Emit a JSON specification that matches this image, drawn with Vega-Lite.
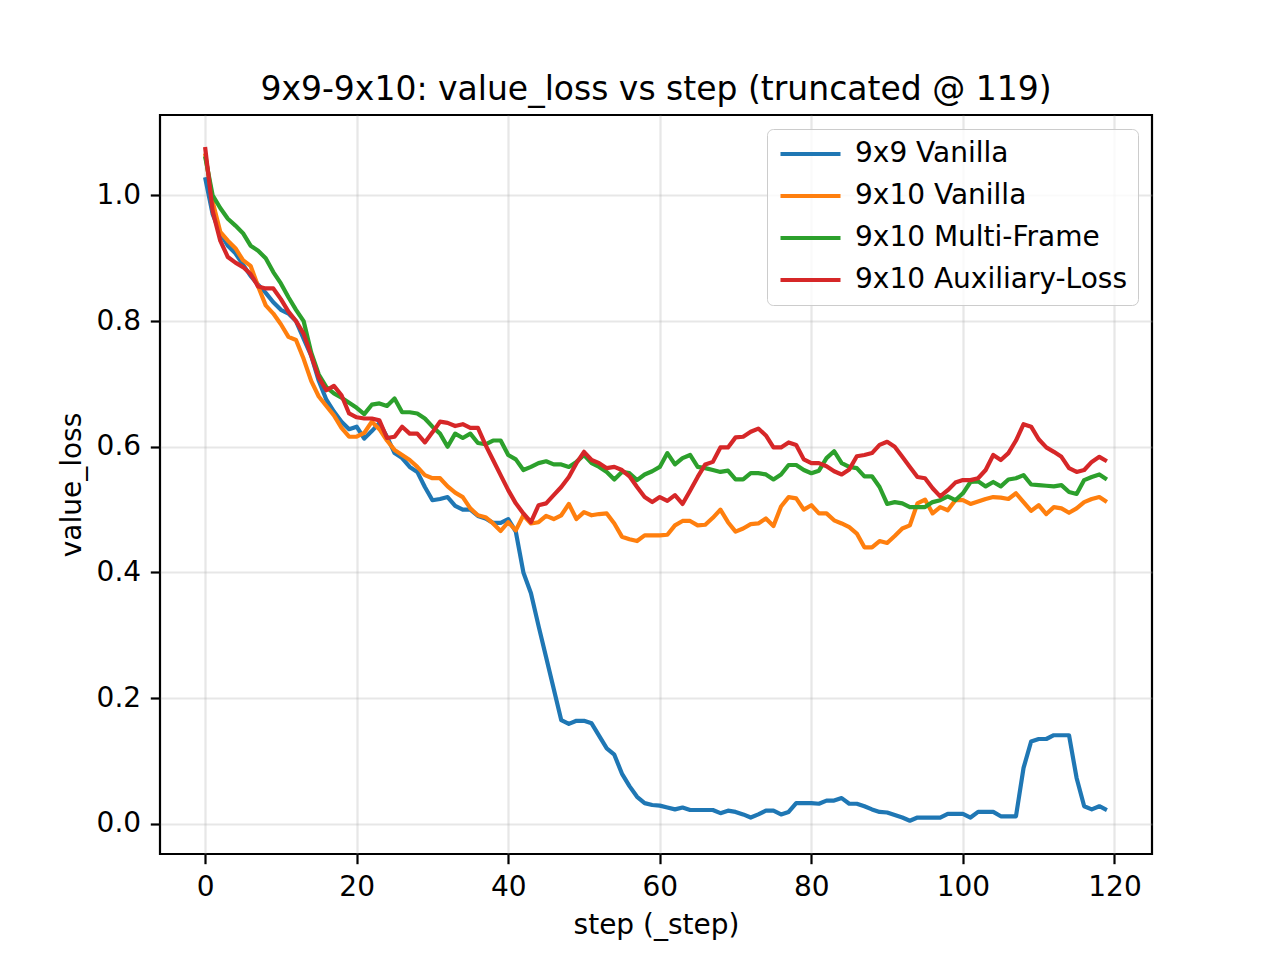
{
  "$schema": "https://vega.github.io/schema/vega-lite/v6.json",
  "autosize": {"type": "none"},
  "width": 992,
  "height": 739,
  "padding": {"left": 160, "top": 115, "right": 128, "bottom": 106},
  "background": "white",
  "title": {
    "text": "9x9-9x10: value_loss vs step (truncated @ 119)",
    "font": "DejaVu Sans",
    "fontSize": 33,
    "fontWeight": "normal",
    "color": "black",
    "anchor": "middle",
    "offset": 8
  },
  "datasets": {
    "runs": [
      {"run": "9x9 Vanilla", "step": 0, "value_loss": 1.029}, {"run": "9x9 Vanilla", "step": 1, "value_loss": 0.97}, {"run": "9x9 Vanilla", "step": 2, "value_loss": 0.94}, {"run": "9x9 Vanilla", "step": 3, "value_loss": 0.92}, {"run": "9x9 Vanilla", "step": 4, "value_loss": 0.908}, {"run": "9x9 Vanilla", "step": 5, "value_loss": 0.89}, {"run": "9x9 Vanilla", "step": 6, "value_loss": 0.872}, {"run": "9x9 Vanilla", "step": 7, "value_loss": 0.858}, {"run": "9x9 Vanilla", "step": 8, "value_loss": 0.845}, {"run": "9x9 Vanilla", "step": 9, "value_loss": 0.83},
      {"run": "9x9 Vanilla", "step": 10, "value_loss": 0.818}, {"run": "9x9 Vanilla", "step": 11, "value_loss": 0.812}, {"run": "9x9 Vanilla", "step": 12, "value_loss": 0.8}, {"run": "9x9 Vanilla", "step": 13, "value_loss": 0.772}, {"run": "9x9 Vanilla", "step": 14, "value_loss": 0.745}, {"run": "9x9 Vanilla", "step": 15, "value_loss": 0.705}, {"run": "9x9 Vanilla", "step": 16, "value_loss": 0.675}, {"run": "9x9 Vanilla", "step": 17, "value_loss": 0.656}, {"run": "9x9 Vanilla", "step": 18, "value_loss": 0.64}, {"run": "9x9 Vanilla", "step": 19, "value_loss": 0.628},
      {"run": "9x9 Vanilla", "step": 20, "value_loss": 0.632}, {"run": "9x9 Vanilla", "step": 21, "value_loss": 0.613}, {"run": "9x9 Vanilla", "step": 22, "value_loss": 0.625}, {"run": "9x9 Vanilla", "step": 23, "value_loss": 0.638}, {"run": "9x9 Vanilla", "step": 24, "value_loss": 0.616}, {"run": "9x9 Vanilla", "step": 25, "value_loss": 0.59}, {"run": "9x9 Vanilla", "step": 26, "value_loss": 0.582}, {"run": "9x9 Vanilla", "step": 27, "value_loss": 0.568}, {"run": "9x9 Vanilla", "step": 28, "value_loss": 0.56}, {"run": "9x9 Vanilla", "step": 29, "value_loss": 0.536},
      {"run": "9x9 Vanilla", "step": 30, "value_loss": 0.515}, {"run": "9x9 Vanilla", "step": 31, "value_loss": 0.517}, {"run": "9x9 Vanilla", "step": 32, "value_loss": 0.52}, {"run": "9x9 Vanilla", "step": 33, "value_loss": 0.506}, {"run": "9x9 Vanilla", "step": 34, "value_loss": 0.5}, {"run": "9x9 Vanilla", "step": 35, "value_loss": 0.5}, {"run": "9x9 Vanilla", "step": 36, "value_loss": 0.49}, {"run": "9x9 Vanilla", "step": 37, "value_loss": 0.486}, {"run": "9x9 Vanilla", "step": 38, "value_loss": 0.479}, {"run": "9x9 Vanilla", "step": 39, "value_loss": 0.479},
      {"run": "9x9 Vanilla", "step": 40, "value_loss": 0.485}, {"run": "9x9 Vanilla", "step": 41, "value_loss": 0.465}, {"run": "9x9 Vanilla", "step": 42, "value_loss": 0.4}, {"run": "9x9 Vanilla", "step": 43, "value_loss": 0.367}, {"run": "9x9 Vanilla", "step": 44, "value_loss": 0.315}, {"run": "9x9 Vanilla", "step": 45, "value_loss": 0.265}, {"run": "9x9 Vanilla", "step": 46, "value_loss": 0.215}, {"run": "9x9 Vanilla", "step": 47, "value_loss": 0.165}, {"run": "9x9 Vanilla", "step": 48, "value_loss": 0.159}, {"run": "9x9 Vanilla", "step": 49, "value_loss": 0.164},
      {"run": "9x9 Vanilla", "step": 50, "value_loss": 0.164}, {"run": "9x9 Vanilla", "step": 51, "value_loss": 0.16}, {"run": "9x9 Vanilla", "step": 52, "value_loss": 0.14}, {"run": "9x9 Vanilla", "step": 53, "value_loss": 0.12}, {"run": "9x9 Vanilla", "step": 54, "value_loss": 0.11}, {"run": "9x9 Vanilla", "step": 55, "value_loss": 0.08}, {"run": "9x9 Vanilla", "step": 56, "value_loss": 0.06}, {"run": "9x9 Vanilla", "step": 57, "value_loss": 0.043}, {"run": "9x9 Vanilla", "step": 58, "value_loss": 0.033}, {"run": "9x9 Vanilla", "step": 59, "value_loss": 0.03},
      {"run": "9x9 Vanilla", "step": 60, "value_loss": 0.029}, {"run": "9x9 Vanilla", "step": 61, "value_loss": 0.026}, {"run": "9x9 Vanilla", "step": 62, "value_loss": 0.023}, {"run": "9x9 Vanilla", "step": 63, "value_loss": 0.026}, {"run": "9x9 Vanilla", "step": 64, "value_loss": 0.022}, {"run": "9x9 Vanilla", "step": 65, "value_loss": 0.022}, {"run": "9x9 Vanilla", "step": 66, "value_loss": 0.022}, {"run": "9x9 Vanilla", "step": 67, "value_loss": 0.022}, {"run": "9x9 Vanilla", "step": 68, "value_loss": 0.017}, {"run": "9x9 Vanilla", "step": 69, "value_loss": 0.021},
      {"run": "9x9 Vanilla", "step": 70, "value_loss": 0.019}, {"run": "9x9 Vanilla", "step": 71, "value_loss": 0.015}, {"run": "9x9 Vanilla", "step": 72, "value_loss": 0.01}, {"run": "9x9 Vanilla", "step": 73, "value_loss": 0.015}, {"run": "9x9 Vanilla", "step": 74, "value_loss": 0.021}, {"run": "9x9 Vanilla", "step": 75, "value_loss": 0.021}, {"run": "9x9 Vanilla", "step": 76, "value_loss": 0.015}, {"run": "9x9 Vanilla", "step": 77, "value_loss": 0.019}, {"run": "9x9 Vanilla", "step": 78, "value_loss": 0.033}, {"run": "9x9 Vanilla", "step": 79, "value_loss": 0.033},
      {"run": "9x9 Vanilla", "step": 80, "value_loss": 0.033}, {"run": "9x9 Vanilla", "step": 81, "value_loss": 0.032}, {"run": "9x9 Vanilla", "step": 82, "value_loss": 0.037}, {"run": "9x9 Vanilla", "step": 83, "value_loss": 0.037}, {"run": "9x9 Vanilla", "step": 84, "value_loss": 0.041}, {"run": "9x9 Vanilla", "step": 85, "value_loss": 0.032}, {"run": "9x9 Vanilla", "step": 86, "value_loss": 0.032}, {"run": "9x9 Vanilla", "step": 87, "value_loss": 0.028}, {"run": "9x9 Vanilla", "step": 88, "value_loss": 0.023}, {"run": "9x9 Vanilla", "step": 89, "value_loss": 0.019},
      {"run": "9x9 Vanilla", "step": 90, "value_loss": 0.018}, {"run": "9x9 Vanilla", "step": 91, "value_loss": 0.014}, {"run": "9x9 Vanilla", "step": 92, "value_loss": 0.01}, {"run": "9x9 Vanilla", "step": 93, "value_loss": 0.005}, {"run": "9x9 Vanilla", "step": 94, "value_loss": 0.01}, {"run": "9x9 Vanilla", "step": 95, "value_loss": 0.01}, {"run": "9x9 Vanilla", "step": 96, "value_loss": 0.01}, {"run": "9x9 Vanilla", "step": 97, "value_loss": 0.01}, {"run": "9x9 Vanilla", "step": 98, "value_loss": 0.016}, {"run": "9x9 Vanilla", "step": 99, "value_loss": 0.016},
      {"run": "9x9 Vanilla", "step": 100, "value_loss": 0.016}, {"run": "9x9 Vanilla", "step": 101, "value_loss": 0.01}, {"run": "9x9 Vanilla", "step": 102, "value_loss": 0.019}, {"run": "9x9 Vanilla", "step": 103, "value_loss": 0.019}, {"run": "9x9 Vanilla", "step": 104, "value_loss": 0.019}, {"run": "9x9 Vanilla", "step": 105, "value_loss": 0.012}, {"run": "9x9 Vanilla", "step": 106, "value_loss": 0.012}, {"run": "9x9 Vanilla", "step": 107, "value_loss": 0.012}, {"run": "9x9 Vanilla", "step": 108, "value_loss": 0.089}, {"run": "9x9 Vanilla", "step": 109, "value_loss": 0.131},
      {"run": "9x9 Vanilla", "step": 110, "value_loss": 0.135}, {"run": "9x9 Vanilla", "step": 111, "value_loss": 0.135}, {"run": "9x9 Vanilla", "step": 112, "value_loss": 0.141}, {"run": "9x9 Vanilla", "step": 113, "value_loss": 0.141}, {"run": "9x9 Vanilla", "step": 114, "value_loss": 0.141}, {"run": "9x9 Vanilla", "step": 115, "value_loss": 0.073}, {"run": "9x9 Vanilla", "step": 116, "value_loss": 0.028}, {"run": "9x9 Vanilla", "step": 117, "value_loss": 0.023}, {"run": "9x9 Vanilla", "step": 118, "value_loss": 0.028}, {"run": "9x9 Vanilla", "step": 119, "value_loss": 0.022},

      {"run": "9x10 Vanilla", "step": 0, "value_loss": 1.067}, {"run": "9x10 Vanilla", "step": 1, "value_loss": 0.99}, {"run": "9x10 Vanilla", "step": 2, "value_loss": 0.942}, {"run": "9x10 Vanilla", "step": 3, "value_loss": 0.928}, {"run": "9x10 Vanilla", "step": 4, "value_loss": 0.916}, {"run": "9x10 Vanilla", "step": 5, "value_loss": 0.897}, {"run": "9x10 Vanilla", "step": 6, "value_loss": 0.888}, {"run": "9x10 Vanilla", "step": 7, "value_loss": 0.855}, {"run": "9x10 Vanilla", "step": 8, "value_loss": 0.825}, {"run": "9x10 Vanilla", "step": 9, "value_loss": 0.812},
      {"run": "9x10 Vanilla", "step": 10, "value_loss": 0.795}, {"run": "9x10 Vanilla", "step": 11, "value_loss": 0.775}, {"run": "9x10 Vanilla", "step": 12, "value_loss": 0.77}, {"run": "9x10 Vanilla", "step": 13, "value_loss": 0.74}, {"run": "9x10 Vanilla", "step": 14, "value_loss": 0.705}, {"run": "9x10 Vanilla", "step": 15, "value_loss": 0.68}, {"run": "9x10 Vanilla", "step": 16, "value_loss": 0.665}, {"run": "9x10 Vanilla", "step": 17, "value_loss": 0.65}, {"run": "9x10 Vanilla", "step": 18, "value_loss": 0.63}, {"run": "9x10 Vanilla", "step": 19, "value_loss": 0.616},
      {"run": "9x10 Vanilla", "step": 20, "value_loss": 0.616}, {"run": "9x10 Vanilla", "step": 21, "value_loss": 0.622}, {"run": "9x10 Vanilla", "step": 22, "value_loss": 0.64}, {"run": "9x10 Vanilla", "step": 23, "value_loss": 0.628}, {"run": "9x10 Vanilla", "step": 24, "value_loss": 0.61}, {"run": "9x10 Vanilla", "step": 25, "value_loss": 0.595}, {"run": "9x10 Vanilla", "step": 26, "value_loss": 0.587}, {"run": "9x10 Vanilla", "step": 27, "value_loss": 0.579}, {"run": "9x10 Vanilla", "step": 28, "value_loss": 0.568}, {"run": "9x10 Vanilla", "step": 29, "value_loss": 0.555},
      {"run": "9x10 Vanilla", "step": 30, "value_loss": 0.55}, {"run": "9x10 Vanilla", "step": 31, "value_loss": 0.55}, {"run": "9x10 Vanilla", "step": 32, "value_loss": 0.537}, {"run": "9x10 Vanilla", "step": 33, "value_loss": 0.527}, {"run": "9x10 Vanilla", "step": 34, "value_loss": 0.52}, {"run": "9x10 Vanilla", "step": 35, "value_loss": 0.502}, {"run": "9x10 Vanilla", "step": 36, "value_loss": 0.491}, {"run": "9x10 Vanilla", "step": 37, "value_loss": 0.488}, {"run": "9x10 Vanilla", "step": 38, "value_loss": 0.478}, {"run": "9x10 Vanilla", "step": 39, "value_loss": 0.466},
      {"run": "9x10 Vanilla", "step": 40, "value_loss": 0.48}, {"run": "9x10 Vanilla", "step": 41, "value_loss": 0.467}, {"run": "9x10 Vanilla", "step": 42, "value_loss": 0.491}, {"run": "9x10 Vanilla", "step": 43, "value_loss": 0.478}, {"run": "9x10 Vanilla", "step": 44, "value_loss": 0.48}, {"run": "9x10 Vanilla", "step": 45, "value_loss": 0.49}, {"run": "9x10 Vanilla", "step": 46, "value_loss": 0.485}, {"run": "9x10 Vanilla", "step": 47, "value_loss": 0.491}, {"run": "9x10 Vanilla", "step": 48, "value_loss": 0.509}, {"run": "9x10 Vanilla", "step": 49, "value_loss": 0.485},
      {"run": "9x10 Vanilla", "step": 50, "value_loss": 0.496}, {"run": "9x10 Vanilla", "step": 51, "value_loss": 0.491}, {"run": "9x10 Vanilla", "step": 52, "value_loss": 0.493}, {"run": "9x10 Vanilla", "step": 53, "value_loss": 0.494}, {"run": "9x10 Vanilla", "step": 54, "value_loss": 0.478}, {"run": "9x10 Vanilla", "step": 55, "value_loss": 0.457}, {"run": "9x10 Vanilla", "step": 56, "value_loss": 0.453}, {"run": "9x10 Vanilla", "step": 57, "value_loss": 0.45}, {"run": "9x10 Vanilla", "step": 58, "value_loss": 0.459}, {"run": "9x10 Vanilla", "step": 59, "value_loss": 0.459},
      {"run": "9x10 Vanilla", "step": 60, "value_loss": 0.459}, {"run": "9x10 Vanilla", "step": 61, "value_loss": 0.46}, {"run": "9x10 Vanilla", "step": 62, "value_loss": 0.475}, {"run": "9x10 Vanilla", "step": 63, "value_loss": 0.482}, {"run": "9x10 Vanilla", "step": 64, "value_loss": 0.482}, {"run": "9x10 Vanilla", "step": 65, "value_loss": 0.475}, {"run": "9x10 Vanilla", "step": 66, "value_loss": 0.476}, {"run": "9x10 Vanilla", "step": 67, "value_loss": 0.487}, {"run": "9x10 Vanilla", "step": 68, "value_loss": 0.5}, {"run": "9x10 Vanilla", "step": 69, "value_loss": 0.48},
      {"run": "9x10 Vanilla", "step": 70, "value_loss": 0.465}, {"run": "9x10 Vanilla", "step": 71, "value_loss": 0.47}, {"run": "9x10 Vanilla", "step": 72, "value_loss": 0.477}, {"run": "9x10 Vanilla", "step": 73, "value_loss": 0.478}, {"run": "9x10 Vanilla", "step": 74, "value_loss": 0.486}, {"run": "9x10 Vanilla", "step": 75, "value_loss": 0.474}, {"run": "9x10 Vanilla", "step": 76, "value_loss": 0.505}, {"run": "9x10 Vanilla", "step": 77, "value_loss": 0.52}, {"run": "9x10 Vanilla", "step": 78, "value_loss": 0.518}, {"run": "9x10 Vanilla", "step": 79, "value_loss": 0.5},
      {"run": "9x10 Vanilla", "step": 80, "value_loss": 0.507}, {"run": "9x10 Vanilla", "step": 81, "value_loss": 0.494}, {"run": "9x10 Vanilla", "step": 82, "value_loss": 0.494}, {"run": "9x10 Vanilla", "step": 83, "value_loss": 0.483}, {"run": "9x10 Vanilla", "step": 84, "value_loss": 0.478}, {"run": "9x10 Vanilla", "step": 85, "value_loss": 0.472}, {"run": "9x10 Vanilla", "step": 86, "value_loss": 0.462}, {"run": "9x10 Vanilla", "step": 87, "value_loss": 0.44}, {"run": "9x10 Vanilla", "step": 88, "value_loss": 0.44}, {"run": "9x10 Vanilla", "step": 89, "value_loss": 0.45},
      {"run": "9x10 Vanilla", "step": 90, "value_loss": 0.447}, {"run": "9x10 Vanilla", "step": 91, "value_loss": 0.458}, {"run": "9x10 Vanilla", "step": 92, "value_loss": 0.47}, {"run": "9x10 Vanilla", "step": 93, "value_loss": 0.475}, {"run": "9x10 Vanilla", "step": 94, "value_loss": 0.51}, {"run": "9x10 Vanilla", "step": 95, "value_loss": 0.516}, {"run": "9x10 Vanilla", "step": 96, "value_loss": 0.494}, {"run": "9x10 Vanilla", "step": 97, "value_loss": 0.504}, {"run": "9x10 Vanilla", "step": 98, "value_loss": 0.499}, {"run": "9x10 Vanilla", "step": 99, "value_loss": 0.515},
      {"run": "9x10 Vanilla", "step": 100, "value_loss": 0.515}, {"run": "9x10 Vanilla", "step": 101, "value_loss": 0.509}, {"run": "9x10 Vanilla", "step": 102, "value_loss": 0.513}, {"run": "9x10 Vanilla", "step": 103, "value_loss": 0.517}, {"run": "9x10 Vanilla", "step": 104, "value_loss": 0.52}, {"run": "9x10 Vanilla", "step": 105, "value_loss": 0.519}, {"run": "9x10 Vanilla", "step": 106, "value_loss": 0.517}, {"run": "9x10 Vanilla", "step": 107, "value_loss": 0.526}, {"run": "9x10 Vanilla", "step": 108, "value_loss": 0.512}, {"run": "9x10 Vanilla", "step": 109, "value_loss": 0.498},
      {"run": "9x10 Vanilla", "step": 110, "value_loss": 0.507}, {"run": "9x10 Vanilla", "step": 111, "value_loss": 0.493}, {"run": "9x10 Vanilla", "step": 112, "value_loss": 0.504}, {"run": "9x10 Vanilla", "step": 113, "value_loss": 0.502}, {"run": "9x10 Vanilla", "step": 114, "value_loss": 0.495}, {"run": "9x10 Vanilla", "step": 115, "value_loss": 0.502}, {"run": "9x10 Vanilla", "step": 116, "value_loss": 0.512}, {"run": "9x10 Vanilla", "step": 117, "value_loss": 0.517}, {"run": "9x10 Vanilla", "step": 118, "value_loss": 0.52}, {"run": "9x10 Vanilla", "step": 119, "value_loss": 0.512},

      {"run": "9x10 Multi-Frame", "step": 0, "value_loss": 1.062}, {"run": "9x10 Multi-Frame", "step": 1, "value_loss": 1.0}, {"run": "9x10 Multi-Frame", "step": 2, "value_loss": 0.98}, {"run": "9x10 Multi-Frame", "step": 3, "value_loss": 0.963}, {"run": "9x10 Multi-Frame", "step": 4, "value_loss": 0.952}, {"run": "9x10 Multi-Frame", "step": 5, "value_loss": 0.94}, {"run": "9x10 Multi-Frame", "step": 6, "value_loss": 0.92}, {"run": "9x10 Multi-Frame", "step": 7, "value_loss": 0.912}, {"run": "9x10 Multi-Frame", "step": 8, "value_loss": 0.9}, {"run": "9x10 Multi-Frame", "step": 9, "value_loss": 0.878},
      {"run": "9x10 Multi-Frame", "step": 10, "value_loss": 0.86}, {"run": "9x10 Multi-Frame", "step": 11, "value_loss": 0.838}, {"run": "9x10 Multi-Frame", "step": 12, "value_loss": 0.818}, {"run": "9x10 Multi-Frame", "step": 13, "value_loss": 0.8}, {"run": "9x10 Multi-Frame", "step": 14, "value_loss": 0.75}, {"run": "9x10 Multi-Frame", "step": 15, "value_loss": 0.715}, {"run": "9x10 Multi-Frame", "step": 16, "value_loss": 0.695}, {"run": "9x10 Multi-Frame", "step": 17, "value_loss": 0.685}, {"run": "9x10 Multi-Frame", "step": 18, "value_loss": 0.678}, {"run": "9x10 Multi-Frame", "step": 19, "value_loss": 0.67},
      {"run": "9x10 Multi-Frame", "step": 20, "value_loss": 0.662}, {"run": "9x10 Multi-Frame", "step": 21, "value_loss": 0.652}, {"run": "9x10 Multi-Frame", "step": 22, "value_loss": 0.667}, {"run": "9x10 Multi-Frame", "step": 23, "value_loss": 0.669}, {"run": "9x10 Multi-Frame", "step": 24, "value_loss": 0.665}, {"run": "9x10 Multi-Frame", "step": 25, "value_loss": 0.677}, {"run": "9x10 Multi-Frame", "step": 26, "value_loss": 0.655}, {"run": "9x10 Multi-Frame", "step": 27, "value_loss": 0.655}, {"run": "9x10 Multi-Frame", "step": 28, "value_loss": 0.653}, {"run": "9x10 Multi-Frame", "step": 29, "value_loss": 0.645},
      {"run": "9x10 Multi-Frame", "step": 30, "value_loss": 0.632}, {"run": "9x10 Multi-Frame", "step": 31, "value_loss": 0.621}, {"run": "9x10 Multi-Frame", "step": 32, "value_loss": 0.6}, {"run": "9x10 Multi-Frame", "step": 33, "value_loss": 0.621}, {"run": "9x10 Multi-Frame", "step": 34, "value_loss": 0.614}, {"run": "9x10 Multi-Frame", "step": 35, "value_loss": 0.621}, {"run": "9x10 Multi-Frame", "step": 36, "value_loss": 0.606}, {"run": "9x10 Multi-Frame", "step": 37, "value_loss": 0.604}, {"run": "9x10 Multi-Frame", "step": 38, "value_loss": 0.61}, {"run": "9x10 Multi-Frame", "step": 39, "value_loss": 0.61},
      {"run": "9x10 Multi-Frame", "step": 40, "value_loss": 0.587}, {"run": "9x10 Multi-Frame", "step": 41, "value_loss": 0.58}, {"run": "9x10 Multi-Frame", "step": 42, "value_loss": 0.563}, {"run": "9x10 Multi-Frame", "step": 43, "value_loss": 0.568}, {"run": "9x10 Multi-Frame", "step": 44, "value_loss": 0.574}, {"run": "9x10 Multi-Frame", "step": 45, "value_loss": 0.577}, {"run": "9x10 Multi-Frame", "step": 46, "value_loss": 0.572}, {"run": "9x10 Multi-Frame", "step": 47, "value_loss": 0.572}, {"run": "9x10 Multi-Frame", "step": 48, "value_loss": 0.568}, {"run": "9x10 Multi-Frame", "step": 49, "value_loss": 0.576},
      {"run": "9x10 Multi-Frame", "step": 50, "value_loss": 0.587}, {"run": "9x10 Multi-Frame", "step": 51, "value_loss": 0.574}, {"run": "9x10 Multi-Frame", "step": 52, "value_loss": 0.568}, {"run": "9x10 Multi-Frame", "step": 53, "value_loss": 0.56}, {"run": "9x10 Multi-Frame", "step": 54, "value_loss": 0.548}, {"run": "9x10 Multi-Frame", "step": 55, "value_loss": 0.56}, {"run": "9x10 Multi-Frame", "step": 56, "value_loss": 0.558}, {"run": "9x10 Multi-Frame", "step": 57, "value_loss": 0.547}, {"run": "9x10 Multi-Frame", "step": 58, "value_loss": 0.556}, {"run": "9x10 Multi-Frame", "step": 59, "value_loss": 0.561},
      {"run": "9x10 Multi-Frame", "step": 60, "value_loss": 0.568}, {"run": "9x10 Multi-Frame", "step": 61, "value_loss": 0.59}, {"run": "9x10 Multi-Frame", "step": 62, "value_loss": 0.572}, {"run": "9x10 Multi-Frame", "step": 63, "value_loss": 0.582}, {"run": "9x10 Multi-Frame", "step": 64, "value_loss": 0.587}, {"run": "9x10 Multi-Frame", "step": 65, "value_loss": 0.568}, {"run": "9x10 Multi-Frame", "step": 66, "value_loss": 0.566}, {"run": "9x10 Multi-Frame", "step": 67, "value_loss": 0.563}, {"run": "9x10 Multi-Frame", "step": 68, "value_loss": 0.56}, {"run": "9x10 Multi-Frame", "step": 69, "value_loss": 0.562},
      {"run": "9x10 Multi-Frame", "step": 70, "value_loss": 0.548}, {"run": "9x10 Multi-Frame", "step": 71, "value_loss": 0.548}, {"run": "9x10 Multi-Frame", "step": 72, "value_loss": 0.558}, {"run": "9x10 Multi-Frame", "step": 73, "value_loss": 0.558}, {"run": "9x10 Multi-Frame", "step": 74, "value_loss": 0.556}, {"run": "9x10 Multi-Frame", "step": 75, "value_loss": 0.548}, {"run": "9x10 Multi-Frame", "step": 76, "value_loss": 0.556}, {"run": "9x10 Multi-Frame", "step": 77, "value_loss": 0.571}, {"run": "9x10 Multi-Frame", "step": 78, "value_loss": 0.571}, {"run": "9x10 Multi-Frame", "step": 79, "value_loss": 0.563},
      {"run": "9x10 Multi-Frame", "step": 80, "value_loss": 0.558}, {"run": "9x10 Multi-Frame", "step": 81, "value_loss": 0.562}, {"run": "9x10 Multi-Frame", "step": 82, "value_loss": 0.582}, {"run": "9x10 Multi-Frame", "step": 83, "value_loss": 0.593}, {"run": "9x10 Multi-Frame", "step": 84, "value_loss": 0.574}, {"run": "9x10 Multi-Frame", "step": 85, "value_loss": 0.568}, {"run": "9x10 Multi-Frame", "step": 86, "value_loss": 0.566}, {"run": "9x10 Multi-Frame", "step": 87, "value_loss": 0.553}, {"run": "9x10 Multi-Frame", "step": 88, "value_loss": 0.553}, {"run": "9x10 Multi-Frame", "step": 89, "value_loss": 0.536},
      {"run": "9x10 Multi-Frame", "step": 90, "value_loss": 0.509}, {"run": "9x10 Multi-Frame", "step": 91, "value_loss": 0.512}, {"run": "9x10 Multi-Frame", "step": 92, "value_loss": 0.51}, {"run": "9x10 Multi-Frame", "step": 93, "value_loss": 0.504}, {"run": "9x10 Multi-Frame", "step": 94, "value_loss": 0.504}, {"run": "9x10 Multi-Frame", "step": 95, "value_loss": 0.504}, {"run": "9x10 Multi-Frame", "step": 96, "value_loss": 0.512}, {"run": "9x10 Multi-Frame", "step": 97, "value_loss": 0.515}, {"run": "9x10 Multi-Frame", "step": 98, "value_loss": 0.521}, {"run": "9x10 Multi-Frame", "step": 99, "value_loss": 0.515},
      {"run": "9x10 Multi-Frame", "step": 100, "value_loss": 0.526}, {"run": "9x10 Multi-Frame", "step": 101, "value_loss": 0.544}, {"run": "9x10 Multi-Frame", "step": 102, "value_loss": 0.545}, {"run": "9x10 Multi-Frame", "step": 103, "value_loss": 0.537}, {"run": "9x10 Multi-Frame", "step": 104, "value_loss": 0.544}, {"run": "9x10 Multi-Frame", "step": 105, "value_loss": 0.537}, {"run": "9x10 Multi-Frame", "step": 106, "value_loss": 0.548}, {"run": "9x10 Multi-Frame", "step": 107, "value_loss": 0.55}, {"run": "9x10 Multi-Frame", "step": 108, "value_loss": 0.555}, {"run": "9x10 Multi-Frame", "step": 109, "value_loss": 0.54},
      {"run": "9x10 Multi-Frame", "step": 110, "value_loss": 0.539}, {"run": "9x10 Multi-Frame", "step": 111, "value_loss": 0.538}, {"run": "9x10 Multi-Frame", "step": 112, "value_loss": 0.537}, {"run": "9x10 Multi-Frame", "step": 113, "value_loss": 0.539}, {"run": "9x10 Multi-Frame", "step": 114, "value_loss": 0.528}, {"run": "9x10 Multi-Frame", "step": 115, "value_loss": 0.525}, {"run": "9x10 Multi-Frame", "step": 116, "value_loss": 0.547}, {"run": "9x10 Multi-Frame", "step": 117, "value_loss": 0.552}, {"run": "9x10 Multi-Frame", "step": 118, "value_loss": 0.556}, {"run": "9x10 Multi-Frame", "step": 119, "value_loss": 0.548},

      {"run": "9x10 Auxiliary-Loss", "step": 0, "value_loss": 1.077}, {"run": "9x10 Auxiliary-Loss", "step": 1, "value_loss": 0.975}, {"run": "9x10 Auxiliary-Loss", "step": 2, "value_loss": 0.928}, {"run": "9x10 Auxiliary-Loss", "step": 3, "value_loss": 0.902}, {"run": "9x10 Auxiliary-Loss", "step": 4, "value_loss": 0.893}, {"run": "9x10 Auxiliary-Loss", "step": 5, "value_loss": 0.886}, {"run": "9x10 Auxiliary-Loss", "step": 6, "value_loss": 0.875}, {"run": "9x10 Auxiliary-Loss", "step": 7, "value_loss": 0.855}, {"run": "9x10 Auxiliary-Loss", "step": 8, "value_loss": 0.852}, {"run": "9x10 Auxiliary-Loss", "step": 9, "value_loss": 0.852},
      {"run": "9x10 Auxiliary-Loss", "step": 10, "value_loss": 0.835}, {"run": "9x10 Auxiliary-Loss", "step": 11, "value_loss": 0.815}, {"run": "9x10 Auxiliary-Loss", "step": 12, "value_loss": 0.8}, {"run": "9x10 Auxiliary-Loss", "step": 13, "value_loss": 0.78}, {"run": "9x10 Auxiliary-Loss", "step": 14, "value_loss": 0.745}, {"run": "9x10 Auxiliary-Loss", "step": 15, "value_loss": 0.71}, {"run": "9x10 Auxiliary-Loss", "step": 16, "value_loss": 0.69}, {"run": "9x10 Auxiliary-Loss", "step": 17, "value_loss": 0.697}, {"run": "9x10 Auxiliary-Loss", "step": 18, "value_loss": 0.682}, {"run": "9x10 Auxiliary-Loss", "step": 19, "value_loss": 0.653},
      {"run": "9x10 Auxiliary-Loss", "step": 20, "value_loss": 0.647}, {"run": "9x10 Auxiliary-Loss", "step": 21, "value_loss": 0.645}, {"run": "9x10 Auxiliary-Loss", "step": 22, "value_loss": 0.645}, {"run": "9x10 Auxiliary-Loss", "step": 23, "value_loss": 0.642}, {"run": "9x10 Auxiliary-Loss", "step": 24, "value_loss": 0.614}, {"run": "9x10 Auxiliary-Loss", "step": 25, "value_loss": 0.616}, {"run": "9x10 Auxiliary-Loss", "step": 26, "value_loss": 0.632}, {"run": "9x10 Auxiliary-Loss", "step": 27, "value_loss": 0.621}, {"run": "9x10 Auxiliary-Loss", "step": 28, "value_loss": 0.621}, {"run": "9x10 Auxiliary-Loss", "step": 29, "value_loss": 0.607},
      {"run": "9x10 Auxiliary-Loss", "step": 30, "value_loss": 0.623}, {"run": "9x10 Auxiliary-Loss", "step": 31, "value_loss": 0.64}, {"run": "9x10 Auxiliary-Loss", "step": 32, "value_loss": 0.638}, {"run": "9x10 Auxiliary-Loss", "step": 33, "value_loss": 0.633}, {"run": "9x10 Auxiliary-Loss", "step": 34, "value_loss": 0.636}, {"run": "9x10 Auxiliary-Loss", "step": 35, "value_loss": 0.63}, {"run": "9x10 Auxiliary-Loss", "step": 36, "value_loss": 0.63}, {"run": "9x10 Auxiliary-Loss", "step": 37, "value_loss": 0.603}, {"run": "9x10 Auxiliary-Loss", "step": 38, "value_loss": 0.579}, {"run": "9x10 Auxiliary-Loss", "step": 39, "value_loss": 0.555},
      {"run": "9x10 Auxiliary-Loss", "step": 40, "value_loss": 0.531}, {"run": "9x10 Auxiliary-Loss", "step": 41, "value_loss": 0.51}, {"run": "9x10 Auxiliary-Loss", "step": 42, "value_loss": 0.494}, {"run": "9x10 Auxiliary-Loss", "step": 43, "value_loss": 0.48}, {"run": "9x10 Auxiliary-Loss", "step": 44, "value_loss": 0.507}, {"run": "9x10 Auxiliary-Loss", "step": 45, "value_loss": 0.51}, {"run": "9x10 Auxiliary-Loss", "step": 46, "value_loss": 0.523}, {"run": "9x10 Auxiliary-Loss", "step": 47, "value_loss": 0.536}, {"run": "9x10 Auxiliary-Loss", "step": 48, "value_loss": 0.552}, {"run": "9x10 Auxiliary-Loss", "step": 49, "value_loss": 0.574},
      {"run": "9x10 Auxiliary-Loss", "step": 50, "value_loss": 0.592}, {"run": "9x10 Auxiliary-Loss", "step": 51, "value_loss": 0.579}, {"run": "9x10 Auxiliary-Loss", "step": 52, "value_loss": 0.574}, {"run": "9x10 Auxiliary-Loss", "step": 53, "value_loss": 0.566}, {"run": "9x10 Auxiliary-Loss", "step": 54, "value_loss": 0.568}, {"run": "9x10 Auxiliary-Loss", "step": 55, "value_loss": 0.563}, {"run": "9x10 Auxiliary-Loss", "step": 56, "value_loss": 0.553}, {"run": "9x10 Auxiliary-Loss", "step": 57, "value_loss": 0.536}, {"run": "9x10 Auxiliary-Loss", "step": 58, "value_loss": 0.52}, {"run": "9x10 Auxiliary-Loss", "step": 59, "value_loss": 0.512},
      {"run": "9x10 Auxiliary-Loss", "step": 60, "value_loss": 0.52}, {"run": "9x10 Auxiliary-Loss", "step": 61, "value_loss": 0.514}, {"run": "9x10 Auxiliary-Loss", "step": 62, "value_loss": 0.523}, {"run": "9x10 Auxiliary-Loss", "step": 63, "value_loss": 0.509}, {"run": "9x10 Auxiliary-Loss", "step": 64, "value_loss": 0.53}, {"run": "9x10 Auxiliary-Loss", "step": 65, "value_loss": 0.552}, {"run": "9x10 Auxiliary-Loss", "step": 66, "value_loss": 0.572}, {"run": "9x10 Auxiliary-Loss", "step": 67, "value_loss": 0.576}, {"run": "9x10 Auxiliary-Loss", "step": 68, "value_loss": 0.599}, {"run": "9x10 Auxiliary-Loss", "step": 69, "value_loss": 0.599},
      {"run": "9x10 Auxiliary-Loss", "step": 70, "value_loss": 0.615}, {"run": "9x10 Auxiliary-Loss", "step": 71, "value_loss": 0.616}, {"run": "9x10 Auxiliary-Loss", "step": 72, "value_loss": 0.624}, {"run": "9x10 Auxiliary-Loss", "step": 73, "value_loss": 0.629}, {"run": "9x10 Auxiliary-Loss", "step": 74, "value_loss": 0.618}, {"run": "9x10 Auxiliary-Loss", "step": 75, "value_loss": 0.599}, {"run": "9x10 Auxiliary-Loss", "step": 76, "value_loss": 0.599}, {"run": "9x10 Auxiliary-Loss", "step": 77, "value_loss": 0.607}, {"run": "9x10 Auxiliary-Loss", "step": 78, "value_loss": 0.603}, {"run": "9x10 Auxiliary-Loss", "step": 79, "value_loss": 0.58},
      {"run": "9x10 Auxiliary-Loss", "step": 80, "value_loss": 0.574}, {"run": "9x10 Auxiliary-Loss", "step": 81, "value_loss": 0.574}, {"run": "9x10 Auxiliary-Loss", "step": 82, "value_loss": 0.569}, {"run": "9x10 Auxiliary-Loss", "step": 83, "value_loss": 0.561}, {"run": "9x10 Auxiliary-Loss", "step": 84, "value_loss": 0.556}, {"run": "9x10 Auxiliary-Loss", "step": 85, "value_loss": 0.564}, {"run": "9x10 Auxiliary-Loss", "step": 86, "value_loss": 0.585}, {"run": "9x10 Auxiliary-Loss", "step": 87, "value_loss": 0.587}, {"run": "9x10 Auxiliary-Loss", "step": 88, "value_loss": 0.59}, {"run": "9x10 Auxiliary-Loss", "step": 89, "value_loss": 0.603},
      {"run": "9x10 Auxiliary-Loss", "step": 90, "value_loss": 0.608}, {"run": "9x10 Auxiliary-Loss", "step": 91, "value_loss": 0.6}, {"run": "9x10 Auxiliary-Loss", "step": 92, "value_loss": 0.584}, {"run": "9x10 Auxiliary-Loss", "step": 93, "value_loss": 0.568}, {"run": "9x10 Auxiliary-Loss", "step": 94, "value_loss": 0.552}, {"run": "9x10 Auxiliary-Loss", "step": 95, "value_loss": 0.55}, {"run": "9x10 Auxiliary-Loss", "step": 96, "value_loss": 0.534}, {"run": "9x10 Auxiliary-Loss", "step": 97, "value_loss": 0.521}, {"run": "9x10 Auxiliary-Loss", "step": 98, "value_loss": 0.531}, {"run": "9x10 Auxiliary-Loss", "step": 99, "value_loss": 0.543},
      {"run": "9x10 Auxiliary-Loss", "step": 100, "value_loss": 0.547}, {"run": "9x10 Auxiliary-Loss", "step": 101, "value_loss": 0.547}, {"run": "9x10 Auxiliary-Loss", "step": 102, "value_loss": 0.55}, {"run": "9x10 Auxiliary-Loss", "step": 103, "value_loss": 0.563}, {"run": "9x10 Auxiliary-Loss", "step": 104, "value_loss": 0.587}, {"run": "9x10 Auxiliary-Loss", "step": 105, "value_loss": 0.579}, {"run": "9x10 Auxiliary-Loss", "step": 106, "value_loss": 0.59}, {"run": "9x10 Auxiliary-Loss", "step": 107, "value_loss": 0.61}, {"run": "9x10 Auxiliary-Loss", "step": 108, "value_loss": 0.636}, {"run": "9x10 Auxiliary-Loss", "step": 109, "value_loss": 0.632},
      {"run": "9x10 Auxiliary-Loss", "step": 110, "value_loss": 0.612}, {"run": "9x10 Auxiliary-Loss", "step": 111, "value_loss": 0.599}, {"run": "9x10 Auxiliary-Loss", "step": 112, "value_loss": 0.592}, {"run": "9x10 Auxiliary-Loss", "step": 113, "value_loss": 0.584}, {"run": "9x10 Auxiliary-Loss", "step": 114, "value_loss": 0.566}, {"run": "9x10 Auxiliary-Loss", "step": 115, "value_loss": 0.56}, {"run": "9x10 Auxiliary-Loss", "step": 116, "value_loss": 0.563}, {"run": "9x10 Auxiliary-Loss", "step": 117, "value_loss": 0.576}, {"run": "9x10 Auxiliary-Loss", "step": 118, "value_loss": 0.584}, {"run": "9x10 Auxiliary-Loss", "step": 119, "value_loss": 0.577}
    ]
  },
  "data": {"name": "runs"},
  "mark": {"type": "line", "strokeWidth": 4.2, "strokeJoin": "round", "clip": true},
  "encoding": {
    "x": {
      "field": "step",
      "type": "quantitative",
      "title": "step (_step)",
      "scale": {"domain": [-5.95, 124.95], "nice": false, "zero": false},
      "axis": {"values": [0, 20, 40, 60, 80, 100, 120], "format": "d"}
    },
    "y": {
      "field": "value_loss",
      "type": "quantitative",
      "title": "value_loss",
      "scale": {"domain": [-0.048, 1.128], "nice": false, "zero": false},
      "axis": {"values": [0, 0.2, 0.4, 0.6, 0.8, 1.0], "format": ".1f"}
    },
    "color": {
      "field": "run",
      "type": "nominal",
      "title": null,
      "scale": {
        "domain": ["9x9 Vanilla", "9x10 Vanilla", "9x10 Multi-Frame", "9x10 Auxiliary-Loss"],
        "range": ["#1f77b4", "#ff7f0e", "#2ca02c", "#d62728"]
      },
      "legend": {
        "orient": "top-right",
        "offset": 14,
        "symbolType": "stroke",
        "symbolSize": 3600,
        "symbolStrokeWidth": 4.2,
        "clipHeight": 28,
        "labelFont": "DejaVu Sans",
        "labelFontSize": 28,
        "labelColor": "black",
        "labelLimit": 500,
        "labelOffset": 12,
        "rowPadding": 14,
        "padding": 11,
        "fillColor": "rgba(255,255,255,0.8)",
        "strokeColor": "#cccccc",
        "cornerRadius": 6
      }
    }
  },
  "config": {
    "view": {"stroke": "black", "strokeWidth": 2.2},
    "axis": {
      "domain": false,
      "grid": true,
      "gridColor": "#b0b0b0",
      "gridOpacity": 0.3,
      "gridWidth": 2.2,
      "ticks": true,
      "tickColor": "black",
      "tickSize": 9.7,
      "tickWidth": 2.2,
      "labelFont": "DejaVu Sans",
      "labelFontSize": 28,
      "labelColor": "black",
      "labelPadding": 9.7,
      "titleFont": "DejaVu Sans",
      "titleFontSize": 28,
      "titleFontWeight": "normal",
      "titleColor": "black",
      "titlePadding": 10
    }
  }
}
